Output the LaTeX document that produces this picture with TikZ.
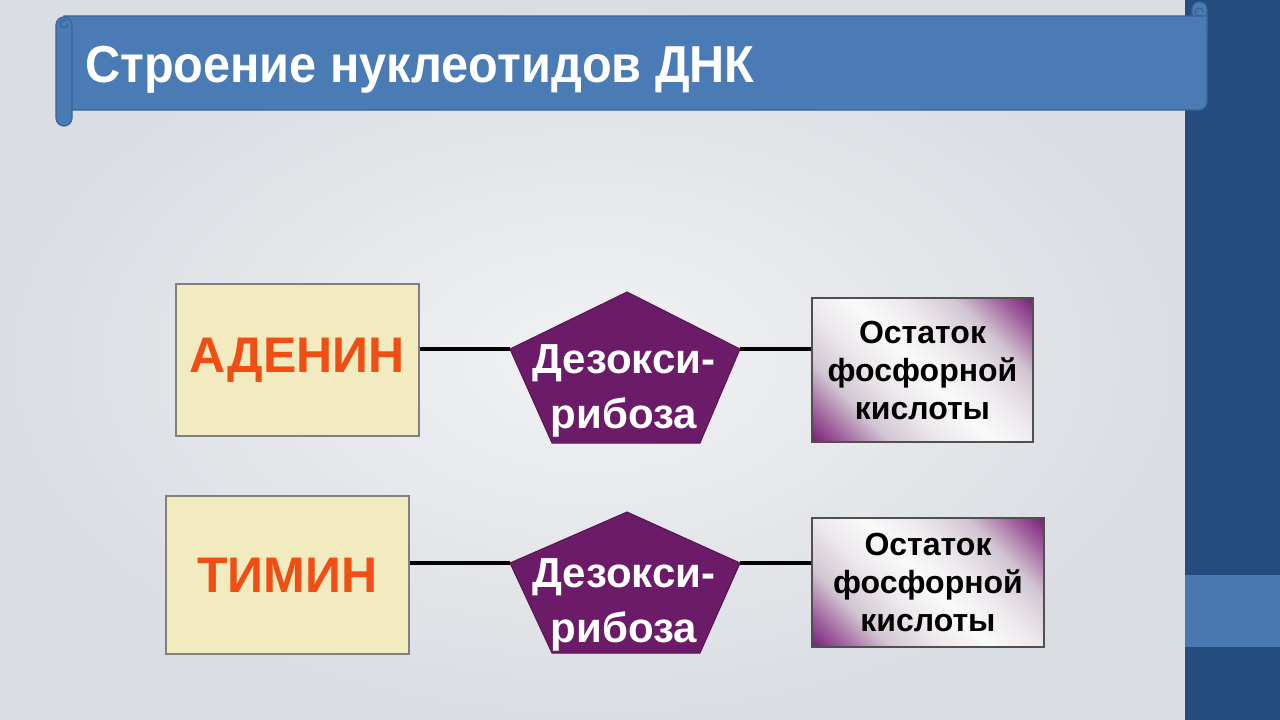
\documentclass[tikz,border=0pt]{standalone}
\usepackage{fontspec}
\setmainfont{Liberation Sans}
\newfontfamily\titlefont[FakeStretch=0.935]{Liberation Sans}
\definecolor{bginner}{HTML}{F1F2F4}
\definecolor{bgouter}{HTML}{DADDE2}
\definecolor{bandblue}{HTML}{4B7BB5}
\definecolor{bandedge}{HTML}{3A6395}
\definecolor{sidedark}{HTML}{244D7D}
\definecolor{sidelight}{HTML}{4A79B1}
\definecolor{baseyellow}{HTML}{F2EBBF}
\definecolor{basegray}{HTML}{808080}
\definecolor{baseorange}{HTML}{F04E14}
\definecolor{sugarpurple}{HTML}{6C1B68}
\definecolor{sugaredge}{HTML}{561455}
\definecolor{phpurple}{HTML}{7A2478}
\definecolor{phmid}{HTML}{A0609E}
\definecolor{phlight}{HTML}{D2C6D2}
\definecolor{phpale}{HTML}{ECE8EC}
\definecolor{phwhite}{HTML}{FAFAFA}
\definecolor{phedge}{HTML}{505050}
\pgfdeclareverticalshading{phosshade}{100bp}{color(0bp)=(phpurple); color(15bp)=(phpurple); color(21bp)=(phmid); color(30bp)=(phlight); color(40bp)=(phpale); color(50bp)=(phwhite); color(60bp)=(phpale); color(70bp)=(phlight); color(79bp)=(phmid); color(85bp)=(phpurple); color(100bp)=(phpurple)}
\begin{document}
\begin{tikzpicture}[x=1pt,y=-1pt,
  basebox/.style={draw=basegray, line width=1.5pt, fill=baseyellow, minimum width=243pt, inner sep=0pt,
    text=baseorange, font=\bfseries\fontsize{50}{60}\selectfont},
  phosbox/.style={draw=phedge, line width=1.5pt, shading=phosshade, shading angle=-45, inner sep=0pt,
    align=center, text=black, font=\bfseries\fontsize{32}{38}\selectfont},
  sugar/.style={fill=sugarpurple, draw=sugaredge, line width=1pt},
  sugartext/.style={align=center, text=white, inner sep=0pt, font=\bfseries\fontsize{42}{55}\selectfont},
  link/.style={draw=black, line width=4pt},
  banner/.style={fill=bandblue, draw=bandedge, line width=1.2pt},
  curl/.style={draw=bandedge, line width=1.2pt}]
\useasboundingbox (0,0) rectangle (1280,720);
% background
\shade[inner color=bginner, outer color=bgouter] (0,0) rectangle (1185,720);
\fill[sidedark] (1185,0) rectangle (1280,720);
\fill[sidelight] (1185,575) rectangle (1280,647);
% title banner
\filldraw[banner, rounded corners=7] (1192,2) rectangle (1207,40);
\filldraw[banner] (64,16) -- (1207,16) [rounded corners=8] -- (1207,110) [sharp corners] -- (64,110) -- cycle;
\draw[curl] (1203,12) arc[start angle=0, end angle=-300, radius=4];
\filldraw[banner, rounded corners=8] (56,17) rectangle (72,126);
\draw[curl] (68,24) arc[start angle=0, end angle=300, radius=4];
\node[anchor=base west, text=white, inner sep=0pt, font=\titlefont\bfseries\fontsize{52}{60}\selectfont] (title) at (85,82) {Строение нуклеотидов ДНК};
% row 1
\node[basebox, minimum height=152pt] (aden) at (297.5,360) {АДЕНИН};
\coordinate (p1t) at (627,292);
\coordinate (p1r) at (740,349);
\coordinate (p1br) at (700,443);
\coordinate (p1bl) at (552,443);
\coordinate (p1l) at (510,349);
\path[sugar] (p1t) -- (p1r) -- (p1br) -- (p1bl) -- (p1l) -- cycle;
\node[sugartext] (deo1) at (624,391) {Дезокси-\\рибоза};
\node[phosbox, minimum width=221pt, minimum height=144pt] (ost1) at (922.5,370) {Остаток\\фосфорной\\кислоты};
\draw[link] (aden.east |- p1l) -- (p1l);
\draw[link] (p1r) -- (p1r -| ost1.west);
% row 2
\node[basebox, minimum height=158pt] (timin) at (287.5,575) {ТИМИН};
\coordinate (p2t) at (627,512);
\coordinate (p2r) at (740,563);
\coordinate (p2br) at (700,653);
\coordinate (p2bl) at (552,653);
\coordinate (p2l) at (510,563);
\path[sugar] (p2t) -- (p2r) -- (p2br) -- (p2bl) -- (p2l) -- cycle;
\node[sugartext] (deo2) at (624,605) {Дезокси-\\рибоза};
\node[phosbox, minimum width=232pt, minimum height=129pt] (ost2) at (928,582.5) {Остаток\\фосфорной\\кислоты};
\draw[link] (timin.east |- p2l) -- (p2l);
\draw[link] (p2r) -- (p2r -| ost2.west);
\end{tikzpicture}
\end{document}
